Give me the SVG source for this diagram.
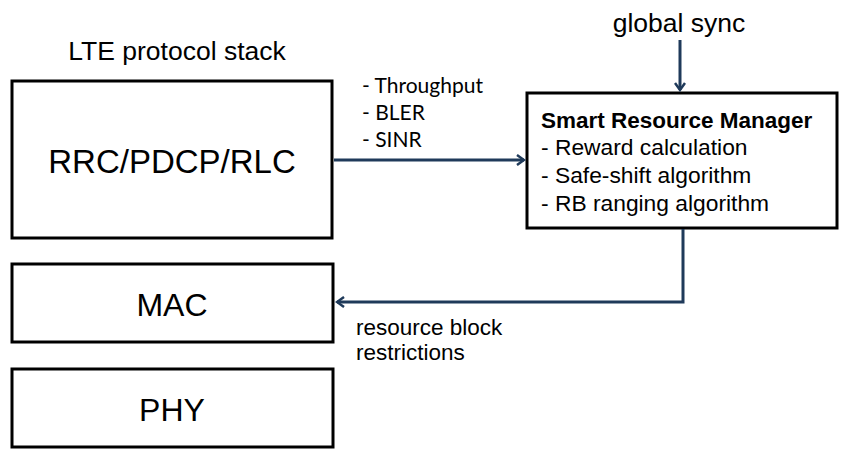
<svg xmlns="http://www.w3.org/2000/svg" width="854" height="460" viewBox="0 0 854 460">
<style>
.box{fill:#fff;stroke:#000;stroke-width:3}
.t{font-family:"Liberation Sans",Arial,sans-serif;fill:#000}
.c{font-family:Lato,"Liberation Sans",sans-serif;fill:#000}
.conn{fill:none;stroke:#1f3a5a;stroke-width:3}
</style>
<defs>
<marker id="arr" viewBox="0 0 12 12" refX="10" refY="6" markerWidth="12" markerHeight="12" markerUnits="userSpaceOnUse" orient="auto">
<polyline points="3,1 10,6 3,11" fill="none" stroke="#1f3a5a" stroke-width="2.5"/>
</marker>
</defs>
<rect width="854" height="460" fill="#fff"/>
<text class="t" x="177" y="60" font-size="26.5" text-anchor="middle">LTE protocol stack</text>
<g id="rrc">
<rect class="box" x="12" y="81" width="320" height="157"/>
<text class="t" x="172" y="173" font-size="33" text-anchor="middle">RRC/PDCP/RLC</text>
</g>
<g id="mac">
<rect class="box" x="12" y="264" width="321" height="78"/>
<text class="t" x="172" y="316" font-size="32" text-anchor="middle">MAC</text>
</g>
<g id="phy">
<rect class="box" x="12" y="369" width="321" height="78"/>
<text class="t" x="172" y="421" font-size="32" text-anchor="middle">PHY</text>
</g>
<g id="srm">
<rect class="box" x="527" y="93" width="310" height="135"/>
<text class="t" x="541" y="128" font-size="22.5" font-weight="bold">Smart Resource Manager</text>
<text class="t" x="541" y="155" font-size="22.8">- Reward calculation</text>
<text class="t" x="541" y="183" font-size="22.8">- Safe-shift algorithm</text>
<text class="t" x="541" y="211" font-size="22.8">- RB ranging algorithm</text>
</g>
<g id="connectors">
<line class="conn" x1="334" y1="160" x2="524" y2="160" marker-end="url(#arr)"/>
<line class="conn" x1="680" y1="40" x2="680" y2="90" marker-end="url(#arr)"/>
<polyline class="conn" points="683,229 683,302 337,302" marker-end="url(#arr)"/>
</g>
<g id="labels">
<text class="t" x="679" y="32" font-size="26.5" text-anchor="middle">global sync</text>
<text class="c" x="362" y="93" font-size="21">- Throughput</text>
<text class="c" x="362" y="120" font-size="21">- BLER</text>
<text class="c" x="362" y="147" font-size="21">- SINR</text>
<text class="t" x="356" y="335" font-size="22.5">resource block</text>
<text class="t" x="356" y="360" font-size="22.5">restrictions</text>
</g>
</svg>
